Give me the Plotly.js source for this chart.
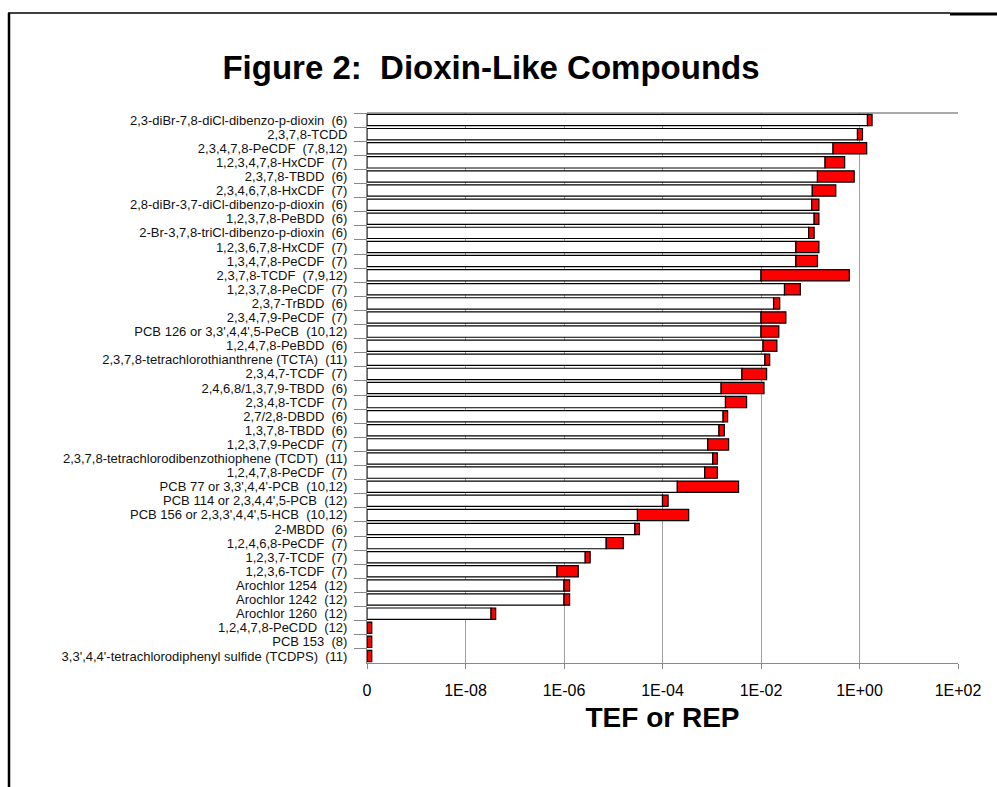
<!DOCTYPE html>
<html>
<head>
<meta charset="utf-8">
<script src="https://cdn.plot.ly/plotly-3.0.1.min.js"></script>
<style>
  html, body { margin: 0; padding: 0; background: #fff; }
  #chart { width: 997px; height: 787px; }
</style>
</head>
<body>
<div id="chart"></div>
<script>
const SP = ' \u00a0';
const labels = [
  '2,3-diBr-7,8-diCl-dibenzo-p-dioxin' + SP + '(6)',
  '2,3,7,8-TCDD',
  '2,3,4,7,8-PeCDF' + SP + '(7,8,12)',
  '1,2,3,4,7,8-HxCDF' + SP + '(7)',
  '2,3,7,8-TBDD' + SP + '(6)',
  '2,3,4,6,7,8-HxCDF' + SP + '(7)',
  '2,8-diBr-3,7-diCl-dibenzo-p-dioxin' + SP + '(6)',
  '1,2,3,7,8-PeBDD' + SP + '(6)',
  '2-Br-3,7,8-triCl-dibenzo-p-dioxin' + SP + '(6)',
  '1,2,3,6,7,8-HxCDF' + SP + '(7)',
  '1,3,4,7,8-PeCDF' + SP + '(7)',
  '2,3,7,8-TCDF' + SP + '(7,9,12)',
  '1,2,3,7,8-PeCDF' + SP + '(7)',
  '2,3,7-TrBDD' + SP + '(6)',
  '2,3,4,7,9-PeCDF' + SP + '(7)',
  "PCB 126 or 3,3',4,4',5-PeCB" + SP + '(10,12)',
  '1,2,4,7,8-PeBDD' + SP + '(6)',
  '2,3,7,8-tetrachlorothianthrene (TCTA)' + SP + '(11)',
  '2,3,4,7-TCDF' + SP + '(7)',
  '2,4,6,8/1,3,7,9-TBDD' + SP + '(6)',
  '2,3,4,8-TCDF' + SP + '(7)',
  '2,7/2,8-DBDD' + SP + '(6)',
  '1,3,7,8-TBDD' + SP + '(6)',
  '1,2,3,7,9-PeCDF' + SP + '(7)',
  '2,3,7,8-tetrachlorodibenzothiophene (TCDT)' + SP + '(11)',
  '1,2,4,7,8-PeCDF' + SP + '(7)',
  "PCB 77 or 3,3',4,4'-PCB" + SP + '(10,12)',
  "PCB 114 or 2,3,4,4',5-PCB" + SP + '(12)',
  "PCB 156 or 2,3,3',4,4',5-HCB" + SP + '(10,12)',
  '2-MBDD' + SP + '(6)',
  '1,2,4,6,8-PeCDF' + SP + '(7)',
  '1,2,3,7-TCDF' + SP + '(7)',
  '1,2,3,6-TCDF' + SP + '(7)',
  'Arochlor 1254' + SP + '(12)',
  'Arochlor 1242' + SP + '(12)',
  'Arochlor 1260' + SP + '(12)',
  '1,2,4,7,8-PeCDD' + SP + '(12)',
  'PCB 153' + SP + '(8)',
  "3,3',4,4'-tetrachlorodiphenyl sulfide (TCDPS)" + SP + '(11)'
];

// lower end of range (end of white bar)
const lowTEF = [
  1.45, 0.91, 0.29, 0.20, 0.14, 0.11, 0.107, 0.12, 0.093, 0.051,
  0.051, 0.010, 0.030, 0.018, 0.010, 0.010, 0.011, 0.012, 0.0041, 0.00155,
  0.0019, 0.0017, 0.0014, 0.00083, 0.00105, 0.00072, 0.00020, 0.00010, 0.000031, 0.0000275,
  7.2e-6, 2.7e-6, 7.2e-7, 1.0e-6, 1.0e-6, 3.3e-8, 1e-10, 1e-10, 1e-10
];
// upper end of range (end of red bar)
const highTEF = [
  1.8, 1.15, 1.4, 0.50, 0.78, 0.33, 0.15, 0.15, 0.12, 0.15,
  0.14, 0.62, 0.063, 0.024, 0.032, 0.023, 0.021, 0.015, 0.013, 0.0115,
  0.0051, 0.0021, 0.0018, 0.0022, 0.0013, 0.0013, 0.0035, 0.00013, 0.00034, 0.000034,
  1.6e-5, 3.4e-6, 1.95e-6, 1.3e-6, 1.3e-6, 4.1e-8, 1.25e-10, 1.25e-10, 1.25e-10
];

const AXIS_ZERO = 1e-10;   // the "0" at the left of the log axis
const tickVals = [1e-10, 1e-8, 1e-6, 1e-4, 1e-2, 1e0, 1e2];
const tickText = ['0', '1E-08', '1E-06', '1E-04', '1E-02', '1E+00', '1E+02'];

const FONT = 'Liberation Sans, Arial, sans-serif';

const whiteTrace = {
  type: 'bar', orientation: 'h',
  y: labels,
  x: lowTEF.map(v => v - AXIS_ZERO),
  base: lowTEF.map(() => AXIS_ZERO),
  marker: { color: '#ffffff', line: { color: '#000000', width: 1.2 } },
  hoverinfo: 'skip', showlegend: false
};
const redTrace = {
  type: 'bar', orientation: 'h',
  y: labels,
  x: highTEF.map((h, i) => h - lowTEF[i]),
  base: lowTEF,
  marker: { color: '#ff0000', line: { color: '#000000', width: 1.2 } },
  hoverinfo: 'skip', showlegend: false
};

// plot area in pixels: x 367..958, y 113..663
const L = 367, R = 958, T = 113, B = 663;
const px = x => (x - L) / (R - L);
const py = y => (B - y) / (B - T);

const layout = {
  width: 997, height: 787,
  margin: { l: L, r: 997 - R, t: T, b: 787 - B },
  paper_bgcolor: '#ffffff', plot_bgcolor: '#ffffff',
  barmode: 'overlay', bargap: 0.2,
  font: { family: FONT, color: '#000' },
  title: {
    text: '<b>Figure 2:\u00a0 Dioxin-Like Compounds</b>',
    font: { family: FONT, size: 33, color: '#000' },
    x: 491 / 997, xanchor: 'center', xref: 'container',
    y: 1 - 67 / 787, yanchor: 'middle', yref: 'container'
  },
  xaxis: {
    type: 'log', range: [-10, 2],
    tickvals: tickVals, ticktext: tickText,
    ticks: 'outside', ticklen: 5, tickcolor: '#888', tickwidth: 1,
    ticklabelstandoff: 8,
    showgrid: true, gridcolor: '#a0a0a0', gridwidth: 1,
    showline: true, linecolor: '#888', linewidth: 1,
    zeroline: false,
    tickfont: { family: FONT, size: 16, color: '#000' },
    title: { text: '<b>TEF or REP</b>', font: { family: FONT, size: 28, color: '#000' }, standoff: 9 }
  },
  yaxis: {
    type: 'category', autorange: 'reversed',
    tickmode: 'linear', tick0: 0, dtick: 1,
    tickson: 'boundaries', ticks: 'outside', ticklen: 12, tickcolor: '#888', tickwidth: 1,
    ticklabelstandoff: 16,
    showgrid: false, showline: true, linecolor: '#888', linewidth: 1,
    zeroline: false,
    tickfont: { family: FONT, size: 13, color: '#111' }
  },
  shapes: [
    // top border of plot area
    { type: 'line', xref: 'paper', yref: 'paper', x0: 0, x1: 1, y0: 1, y1: 1, line: { color: '#555', width: 1.2 } },
    // outer frame
    { type: 'line', xref: 'paper', yref: 'paper', x0: px(9), x1: px(9), y0: py(13), y1: py(795), line: { color: '#000', width: 2.5 } },
    { type: 'line', xref: 'paper', yref: 'paper', x0: px(8), x1: px(950), y0: py(13), y1: py(13), line: { color: '#000', width: 1.5 } },
    { type: 'line', xref: 'paper', yref: 'paper', x0: px(950), x1: px(997), y0: py(14), y1: py(14), line: { color: '#000', width: 3 } }
  ]
};

Plotly.newPlot('chart', [whiteTrace, redTrace], layout, { staticPlot: true, displayModeBar: false });
</script>
</body>
</html>
